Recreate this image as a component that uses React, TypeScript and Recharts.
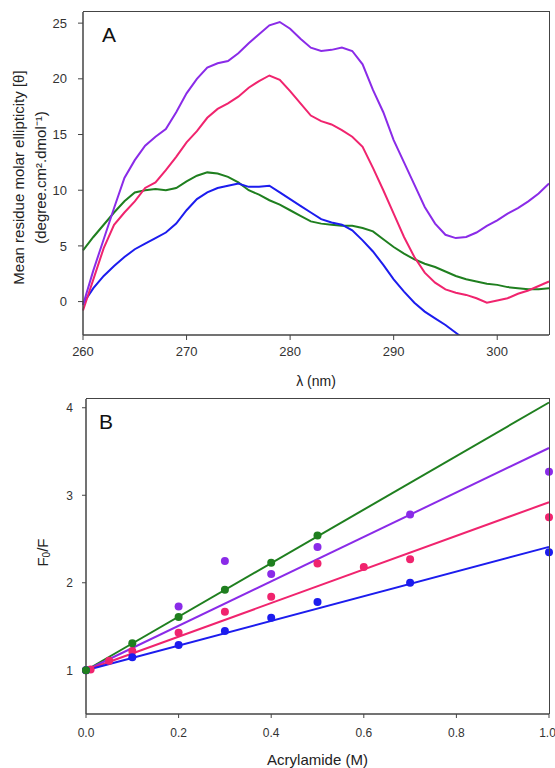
import React from 'react';
import { LineChart, Line, XAxis, YAxis, ComposedChart, Scatter, Label } from 'recharts';

// panel A: CD spectra, one value per nm
const wavelengths = [
  260, 261, 262, 263, 264, 265, 266, 267, 268, 269, 270, 271, 272, 273, 274, 275,
  276, 277, 278, 279, 280, 281, 282, 283, 284, 285, 286, 287, 288, 289, 290, 291,
  292, 293, 294, 295, 296, 297, 298, 299, 300, 301, 302, 303, 304, 305,
];
const purpleCD = [
  -0.3, 2.8, 5.6, 8.4, 11.1, 12.7, 14.0, 14.8, 15.5, 17.0, 18.7, 20.0, 21.0, 21.4, 21.6, 22.3,
  23.2, 24.0, 24.8, 25.1, 24.5, 23.6, 22.8, 22.5, 22.6, 22.8, 22.5, 21.3, 19.0, 17.0, 14.5, 12.5,
  10.5, 8.5, 7.0, 6.0, 5.7, 5.8, 6.2, 6.8, 7.3, 7.9, 8.4, 9.0, 9.7, 10.6,
];
const pinkCD = [
  -0.8, 2.0, 4.8, 6.9, 8.0, 9.0, 10.2, 10.7, 11.8, 13.0, 14.3, 15.3, 16.5, 17.3, 17.8, 18.4,
  19.2, 19.8, 20.3, 19.9, 18.9, 17.8, 16.7, 16.2, 15.9, 15.4, 14.8, 13.9, 12.0, 10.0, 7.9, 5.8,
  4.0, 2.6, 1.7, 1.1, 0.8, 0.6, 0.3, -0.1, 0.1, 0.3, 0.7, 1.0, 1.4, 1.8,
];
const greenCD = [
  4.6, 5.8, 6.9, 8.0, 9.0, 9.8, 10.0, 10.1, 10.0, 10.2, 10.8, 11.3, 11.6, 11.5, 11.2, 10.7,
  10.0, 9.6, 9.1, 8.7, 8.2, 7.7, 7.2, 7.0, 6.9, 6.8, 6.8, 6.6, 6.3, 5.6, 4.9, 4.3,
  3.8, 3.4, 3.1, 2.7, 2.3, 2.0, 1.8, 1.6, 1.5, 1.3, 1.2, 1.1, 1.1, 1.2,
];
const blueCD = [
  -0.2, 1.2, 2.3, 3.2, 4.0, 4.7, 5.2, 5.7, 6.2, 7.0, 8.2, 9.2, 9.8, 10.2, 10.4, 10.6,
  10.3, 10.3, 10.4, 9.8, 9.2, 8.6, 8.0, 7.4, 7.1, 6.9, 6.4, 5.5, 4.5, 3.3, 2.0, 0.9,
  -0.1, -0.9, -1.5, -2.1, -2.8, -3.5,
];
const cdTicksX = [260, 270, 280, 290, 300];
const cdTicksY = [0, 5, 10, 15, 20, 25];

// panel B: Stern-Volmer points + fitted lines
const greenPts = [
  { a: 0, f: 1.0 }, { a: 0.1, f: 1.31 }, { a: 0.2, f: 1.61 }, { a: 0.3, f: 1.92 },
  { a: 0.4, f: 2.23 }, { a: 0.5, f: 2.54 },
];
const purplePts = [
  { a: 0, f: 1.0 }, { a: 0.2, f: 1.73 }, { a: 0.3, f: 2.25 }, { a: 0.4, f: 2.1 },
  { a: 0.5, f: 2.41 }, { a: 0.7, f: 2.78 }, { a: 1.0, f: 3.27 },
];
const pinkPts = [
  { a: 0, f: 1.0 }, { a: 0.01, f: 1.01 }, { a: 0.05, f: 1.11 }, { a: 0.1, f: 1.22 },
  { a: 0.2, f: 1.43 }, { a: 0.3, f: 1.67 }, { a: 0.4, f: 1.84 }, { a: 0.5, f: 2.22 },
  { a: 0.6, f: 2.18 }, { a: 0.7, f: 2.27 }, { a: 1.0, f: 2.75 },
];
const bluePts = [
  { a: 0, f: 1.0 }, { a: 0.1, f: 1.15 }, { a: 0.2, f: 1.29 }, { a: 0.3, f: 1.45 },
  { a: 0.4, f: 1.6 }, { a: 0.5, f: 1.78 }, { a: 0.7, f: 2.0 }, { a: 1.0, f: 2.35 },
];
const greenFit = [{ a: 0, f: 1 }, { a: 1, f: 4.06 }];
const purpleFit = [{ a: 0, f: 1 }, { a: 1, f: 3.54 }];
const pinkFit = [{ a: 0, f: 1 }, { a: 1, f: 2.92 }];
const blueFit = [{ a: 0, f: 1 }, { a: 1, f: 2.41 }];
const svTicksX = [0, 0.2, 0.4, 0.6, 0.8, 1.0];
const svTicksY = [1, 2, 3, 4];

const PURPLE = '#8a2be8';
const PINK = '#f0246e';
const GREEN = '#1f7f1f';
const BLUE = '#1c1cee';
const AXIS = '#444';
const FONT = '"Liberation Sans", Arial, sans-serif';

const cdRows = wavelengths.map((wl, i) => ({
  wl,
  purple: purpleCD[i],
  pink: pinkCD[i],
  green: greenCD[i],
  blue: blueCD[i],
}));

const tickA = { fontSize: 13, fill: '#333', fontFamily: FONT };
const tickB = { fontSize: 12, fill: '#333', fontFamily: FONT };

const EllipticityLabel = (props: any) => {
  const vb = props.viewBox;
  const cy = vb.y + vb.height / 2 + 4;
  const style = { fontSize: 15, fill: '#222', fontFamily: FONT };
  return (
    <g>
      <text x={18} y={cy} transform={`rotate(-90 18 ${cy})`} textAnchor="middle" dominantBaseline="central" style={style}>
        Mean residue molar ellipticity [θ]
      </text>
      <text x={40} y={cy} transform={`rotate(-90 40 ${cy})`} textAnchor="middle" dominantBaseline="central" style={style}>
        (degree.cm².dmol⁻¹)
      </text>
    </g>
  );
};

const FLabel = (props: any) => {
  const vb = props.viewBox;
  const cy = vb.y + vb.height / 2 - 4;
  return (
    <text x={42} y={cy} transform={`rotate(-90 42 ${cy})`} textAnchor="middle" dominantBaseline="central"
      style={{ fontSize: 15, fill: '#222', fontFamily: FONT }}>
      F<tspan fontSize={10} dy={4}>0</tspan><tspan dy={-4}>/F</tspan>
    </text>
  );
};

const dot = (color: string) => (p: any) => <circle cx={p.cx} cy={p.cy} r={4} fill={color} />;

// top and right edge of the plot box
const frameStyle = (left: number, top: number, width: number, height: number): React.CSSProperties => ({
  position: 'absolute', left, top, width, height, boxSizing: 'border-box',
  borderTop: `1.5px solid ${AXIS}`, borderRight: `1.5px solid ${AXIS}`, pointerEvents: 'none',
});

export default function App() {
  return (
    <div style={{ position: 'absolute', left: 0, top: 0, width: 555, height: 768, background: '#fff', fontFamily: FONT }}>
      <div style={{ position: 'absolute', left: 0, top: 0 }}>
        <LineChart width={555} height={390} data={cdRows} margin={{ top: 12, right: 6, left: 0, bottom: 0 }}>
          <XAxis dataKey="wl" type="number" domain={[260, 305]} ticks={cdTicksX} height={55}
            tick={tickA} tickSize={5} tickMargin={7} stroke={AXIS} axisLine={{ stroke: AXIS, strokeWidth: 1.5 }}>
            <Label value="λ (nm)" position="insideBottom" offset={4} style={{ fontSize: 14, fill: '#222', fontFamily: FONT }} />
          </XAxis>
          <YAxis type="number" domain={[-3, 26]} ticks={cdTicksY} width={83} allowDataOverflow
            tick={tickA} tickSize={5} tickMargin={11} stroke={AXIS} axisLine={{ stroke: AXIS, strokeWidth: 1.5 }}>
            <Label content={EllipticityLabel} />
          </YAxis>
          <Line dataKey="green" stroke={GREEN} strokeWidth={2} dot={false} isAnimationActive={false} />
          <Line dataKey="blue" stroke={BLUE} strokeWidth={2} dot={false} isAnimationActive={false} />
          <Line dataKey="pink" stroke={PINK} strokeWidth={2} dot={false} isAnimationActive={false} />
          <Line dataKey="purple" stroke={PURPLE} strokeWidth={2} dot={false} isAnimationActive={false} />
        </LineChart>
        <div style={frameStyle(83, 11, 467, 324)} />
        <div style={{ position: 'absolute', left: 102, top: 23, fontSize: 21, color: '#111' }}>A</div>
      </div>
      <div style={{ position: 'absolute', left: 0, top: 390 }}>
        <ComposedChart width={555} height={378} margin={{ top: 9, right: 6, left: 0, bottom: 0 }}>
          <XAxis dataKey="a" type="number" domain={[0, 1]} ticks={svTicksX} height={54}
            tickFormatter={(v: number) => v.toFixed(1)}
            tick={tickB} tickSize={4} tickMargin={10} stroke={AXIS} axisLine={{ stroke: AXIS, strokeWidth: 1.5 }}>
            <Label value="Acrylamide (M)" position="insideBottom" offset={3} style={{ fontSize: 15, fill: '#222', fontFamily: FONT }} />
          </XAxis>
          <YAxis dataKey="f" type="number" domain={[0.5, 4.1]} ticks={svTicksY} width={86}
            tick={tickB} tickSize={4} tickMargin={9} stroke={AXIS} axisLine={{ stroke: AXIS, strokeWidth: 1.5 }}>
            <Label content={FLabel} />
          </YAxis>
          <Line data={greenFit} dataKey="f" stroke={GREEN} strokeWidth={2} dot={false} isAnimationActive={false} />
          <Line data={purpleFit} dataKey="f" stroke={PURPLE} strokeWidth={2} dot={false} isAnimationActive={false} />
          <Line data={pinkFit} dataKey="f" stroke={PINK} strokeWidth={2} dot={false} isAnimationActive={false} />
          <Line data={blueFit} dataKey="f" stroke={BLUE} strokeWidth={2} dot={false} isAnimationActive={false} />
          <Scatter data={purplePts} dataKey="f" shape={dot(PURPLE)} isAnimationActive={false} />
          <Scatter data={pinkPts} dataKey="f" shape={dot(PINK)} isAnimationActive={false} />
          <Scatter data={bluePts} dataKey="f" shape={dot(BLUE)} isAnimationActive={false} />
          <Scatter data={greenPts} dataKey="f" shape={dot(GREEN)} isAnimationActive={false} />
        </ComposedChart>
        <div style={frameStyle(86, 8, 464, 316)} />
        <div style={{ position: 'absolute', left: 99, top: 20, fontSize: 21, color: '#111' }}>B</div>
      </div>
    </div>
  );
}
